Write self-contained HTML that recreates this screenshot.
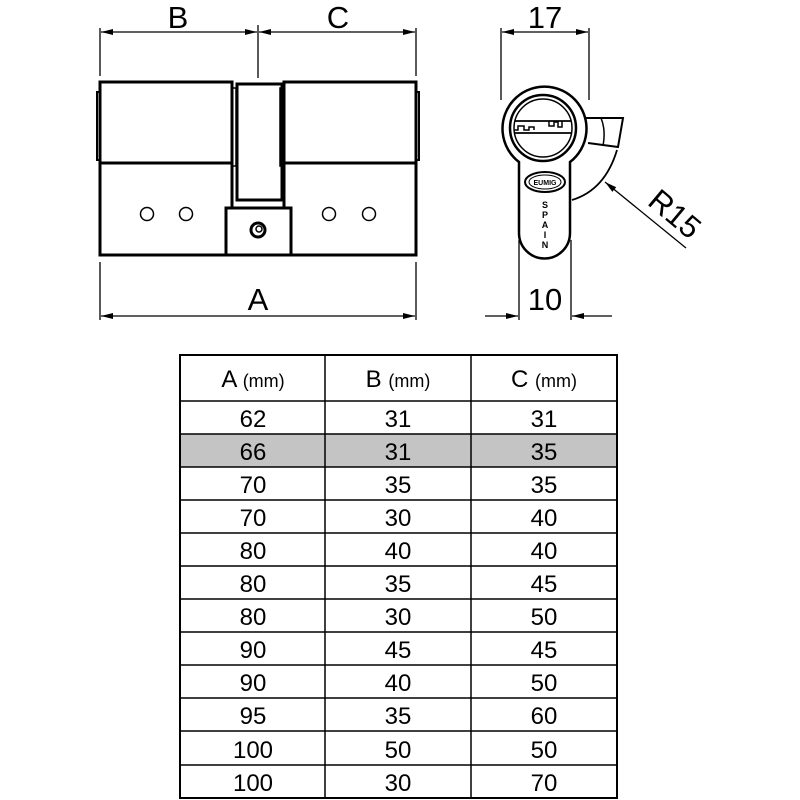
<!DOCTYPE html>
<html><head><style>
html,body{margin:0;padding:0;background:#fff;}
svg{display:block}
</style></head><body>
<svg width="800" height="800" viewBox="0 0 800 800" xmlns="http://www.w3.org/2000/svg">
<defs>
<marker id="ar" viewBox="0 0 12 6" refX="12" refY="3" markerWidth="12" markerHeight="6" orient="auto-start-reverse" markerUnits="userSpaceOnUse">
<path d="M0,0 L12,3 L0,6 z" fill="#000"/></marker>
<clipPath id="cc"><circle cx="543" cy="128" r="29"/></clipPath>
</defs>
<g stroke="#000" fill="none">
<g stroke-width="1.3">
<line x1="100" y1="28" x2="100" y2="76"/>
<line x1="258" y1="25" x2="258" y2="78"/>
<line x1="416" y1="28" x2="416" y2="76"/>
<line x1="101" y1="32" x2="257" y2="32" marker-start="url(#ar)" marker-end="url(#ar)"/>
<line x1="259" y1="32" x2="415" y2="32" marker-start="url(#ar)" marker-end="url(#ar)"/>
<line x1="100" y1="262" x2="100" y2="320"/>
<line x1="416" y1="262" x2="416" y2="320"/>
<line x1="101" y1="316" x2="415" y2="316" marker-start="url(#ar)" marker-end="url(#ar)"/>
</g>
<g stroke-width="3">
<rect x="100" y="82" width="132" height="173"/>
<rect x="284" y="82" width="132" height="173"/>
<line x1="100" y1="163" x2="232" y2="163"/>
<line x1="284" y1="163" x2="416" y2="163"/>
<path d="M237,84 H282 V200 H237 Z"/>
<rect x="226" y="208" width="65" height="47" fill="#fff"/>
<path d="M100,92 h-3 v68 h3 M416,92 h3 v68 h-3" stroke-width="2"/>
</g>
<g stroke-width="1.5">
<path d="M232,88 h4 v78 h-4 M284,88 h-4 v78 h4"/>
<line x1="237" y1="200" x2="282" y2="200"/>
<circle cx="147" cy="214" r="6.5"/><circle cx="186" cy="214" r="6.5"/>
<circle cx="329" cy="214" r="6.5"/><circle cx="369" cy="214" r="6.5"/>
</g>
<circle cx="258" cy="230" r="7" stroke-width="3"/>
<circle cx="259" cy="229" r="3" stroke-width="1.5"/>
<g stroke-width="1.3">
<line x1="501" y1="28" x2="501" y2="100"/>
<line x1="589" y1="28" x2="589" y2="100"/>
<line x1="502" y1="32" x2="588" y2="32" marker-start="url(#ar)" marker-end="url(#ar)"/>
<line x1="519" y1="240" x2="519" y2="320"/>
<line x1="571" y1="240" x2="571" y2="320"/>
<line x1="485" y1="316" x2="518" y2="316" marker-end="url(#ar)"/>
<line x1="612" y1="316" x2="572" y2="316" marker-end="url(#ar)"/>
<line x1="686" y1="248" x2="605" y2="182" marker-end="url(#ar)"/>
</g>
<g stroke-width="2.5">
<path d="M519,162 A42,42 0 1 1 570,162 L570,233 A25.5,25.5 0 0 1 519,233 Z" fill="#fff"/>
<circle cx="543" cy="128" r="33"/>
<circle cx="543" cy="128" r="29" stroke-width="1.5"/>
<path d="M585,118 H623 L618,147 L588,143" stroke-width="2"/>
<path d="M601,118 Q606,130 603,146" stroke-width="1.5"/>
<path d="M617,150 Q605,190 572,200" stroke-width="1.8"/>
</g>
<g stroke-width="1.8" clip-path="url(#cc)">
<path d="M510,121 H580"/>
<path d="M510,133 H580"/>
<path d="M512,133 v-3 h6 v-4 h6 v4 h5 v-3 h5 v3" stroke-width="1.5"/>
<path d="M549,121 v5 h5 v-4 h4 v5 h4 v-6" stroke-width="1.5"/>
</g>
<ellipse cx="545" cy="182" rx="20" ry="10" stroke-width="2"/>
<ellipse cx="545" cy="182" rx="16" ry="7" stroke-width="1"/>
</g>
<g font-family="'Liberation Sans',sans-serif" text-anchor="middle" fill="#000">
<text x="178" y="28" font-size="31">B</text>
<text x="338" y="28" font-size="31">C</text>
<text x="258" y="310" font-size="31">A</text>
<text x="545" y="28" font-size="31">17</text>
<text x="545" y="310" font-size="31">10</text>
<text x="0" y="0" font-size="31" transform="translate(668,222) rotate(40)">R15</text>
<text x="545" y="185" font-size="7" font-weight="bold">EUMIG</text>
<g font-size="9" font-weight="bold">
<text x="545" y="208">S</text><text x="545" y="218">P</text><text x="545" y="228">A</text><text x="545" y="238">I</text><text x="545" y="248">N</text>
</g>
</g>
<rect x="180" y="434" width="437" height="33" fill="#c4c4c4"/>
<g stroke="#000" stroke-width="1.5">
<rect x="180" y="355" width="437" height="443" fill="none" stroke-width="2"/>
<line x1="325" y1="355" x2="325" y2="798"/>
<line x1="471" y1="355" x2="471" y2="798"/>
<line x1="180" y1="401" x2="617" y2="401"/>
<line x1="180" y1="434" x2="617" y2="434"/>
<line x1="180" y1="467" x2="617" y2="467"/>
<line x1="180" y1="500" x2="617" y2="500"/>
<line x1="180" y1="533" x2="617" y2="533"/>
<line x1="180" y1="566" x2="617" y2="566"/>
<line x1="180" y1="599" x2="617" y2="599"/>
<line x1="180" y1="632" x2="617" y2="632"/>
<line x1="180" y1="665" x2="617" y2="665"/>
<line x1="180" y1="698" x2="617" y2="698"/>
<line x1="180" y1="731" x2="617" y2="731"/>
<line x1="180" y1="765" x2="617" y2="765"/>
</g>
<g font-family="'Liberation Sans',sans-serif" text-anchor="middle" fill="#000" font-size="24">
<text x="253" y="387">A <tspan font-size="18">(mm)</tspan></text>
<text x="398" y="387">B <tspan font-size="18">(mm)</tspan></text>
<text x="544" y="387">C <tspan font-size="18">(mm)</tspan></text>
<text x="253" y="427">62</text><text x="398" y="427">31</text><text x="544" y="427">31</text>
<text x="253" y="460">66</text><text x="398" y="460">31</text><text x="544" y="460">35</text>
<text x="253" y="493">70</text><text x="398" y="493">35</text><text x="544" y="493">35</text>
<text x="253" y="526">70</text><text x="398" y="526">30</text><text x="544" y="526">40</text>
<text x="253" y="559">80</text><text x="398" y="559">40</text><text x="544" y="559">40</text>
<text x="253" y="592">80</text><text x="398" y="592">35</text><text x="544" y="592">45</text>
<text x="253" y="625">80</text><text x="398" y="625">30</text><text x="544" y="625">50</text>
<text x="253" y="658">90</text><text x="398" y="658">45</text><text x="544" y="658">45</text>
<text x="253" y="691">90</text><text x="398" y="691">40</text><text x="544" y="691">50</text>
<text x="253" y="724">95</text><text x="398" y="724">35</text><text x="544" y="724">60</text>
<text x="253" y="758">100</text><text x="398" y="758">50</text><text x="544" y="758">50</text>
<text x="253" y="791">100</text><text x="398" y="791">30</text><text x="544" y="791">70</text>
</g>
</svg>
</body></html>
